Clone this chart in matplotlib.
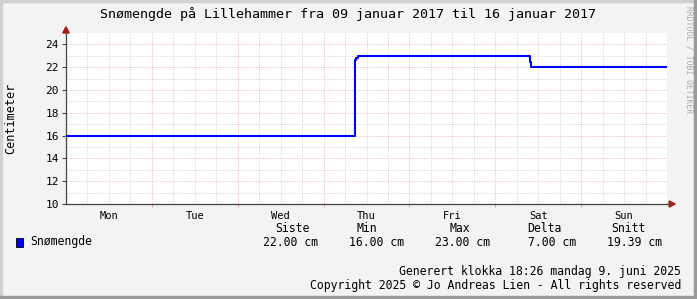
import matplotlib.pyplot as plt
from matplotlib.patches import Rectangle, Polygon
import numpy as np

# hours since Mon 09 jan 2017 00:00
hours = [0, 80.7, 80.9, 81.1, 81.6, 129.6, 130.0, 168]
snow = [16, 17.6, 22.6, 22.8, 23, 22.5, 22, 22]

days = ["Mon", "Tue", "Wed", "Thu", "Fri", "Sat", "Sun"]
yticks = [10, 12, 14, 16, 18, 20, 22, 24]

stat_heads = ["Siste", "Min", "Max", "Delta", "Snitt"]
stat_vals = ["22.00 cm", "16.00 cm", "23.00 cm", "7.00 cm", "19.39 cm"]

W, H = 697, 299
plt.rcParams['font.family'] = ['DejaVu Sans Mono']
fig = plt.figure(figsize=(W / 100, H / 100), dpi=100)
fig.patch.set_facecolor("#F3F3F3")

# frame like rrdtool
fig.patches.append(Rectangle((0, 0), 1.5 / W, 1, transform=fig.transFigure, color="#D0D0D0"))
fig.patches.append(Rectangle((0, 1 - 1.5 / H), 1, 1.5 / H, transform=fig.transFigure, color="#D0D0D0"))
fig.patches.append(Rectangle((1 - 3 / W, 0), 3 / W, 1, transform=fig.transFigure, color="#9A9A9A"))
fig.patches.append(Rectangle((0, 0), 1, 3 / H, transform=fig.transFigure, color="#9A9A9A"))

x0, x1, ytop, ybot = 66, 667, 33, 204
ax = fig.add_axes([x0 / W, (H - ybot) / H, (x1 - x0) / W, (ybot - ytop) / H])
ax.set_facecolor("white")
ax.set_xlim(0, 168)
ax.set_ylim(10, 25)

# grid
dot = (0, (1, 1.4))
gray, red = "#D2D2D2", "#EDB8B8"
for h in np.arange(6, 168, 6):
    if h % 24:
        ax.axvline(h, color=gray, lw=0.72, ls=dot, zorder=1)
for h in range(24, 168, 24):
    ax.axvline(h, color=red, lw=0.72, ls=dot, zorder=1)
for v in range(11, 25):
    ax.axhline(v, color=gray if v % 2 else red, lw=0.72, ls=dot, zorder=1)

ax.plot(hours, snow, drawstyle="steps-post", color="#0000FF", lw=1.5, zorder=3)

for s in ["top", "right"]:
    ax.spines[s].set_visible(False)
for s in ["left", "bottom"]:
    ax.spines[s].set_color("#444444")
    ax.spines[s].set_linewidth(0.9)

ax.set_yticks(yticks)
ax.set_yticklabels([str(v) for v in yticks], fontsize=8)
ax.set_xticks([12 + 24 * i for i in range(7)])
ax.set_xticklabels(days, fontsize=7.5)
ax.set_xticks(range(24, 168, 24), minor=True)
ax.tick_params(axis="x", which="major", length=0, pad=5)
ax.tick_params(axis="x", which="minor", length=2.5, width=0.75, color="#E6A6A6")
ax.tick_params(axis="y", length=3, width=0.8, color="#444444", pad=2)
ax.set_ylabel("Centimeter", fontsize=8.5)
ax.yaxis.set_label_coords((17 - x0) / (x1 - x0), 0.5)

# arrows
ax.plot([168, 168.6], [10, 10], color="#444444", lw=0.9, clip_on=False)
ax.add_patch(Polygon([[168.6, 10.27], [168.6, 9.73], [170.3, 10]], closed=True,
                     color="#A02020", clip_on=False, zorder=5))
ax.add_patch(Polygon([[-0.9, 25], [0.9, 25], [0, 25.55]], closed=True,
                     color="#A02020", clip_on=False, zorder=5))

def ft(x, y, s, **kw):
    fig.text(x / W, 1 - y / H, s, **kw)

ft(348, 14, "Snømengde på Lillehammer fra 09 januar 2017 til 16 januar 2017",
   fontsize=9.6, ha="center", va="center")
ft(689, 6, "RRDTOOL / TOBI OETIKER", fontsize=5.8, rotation=-90, color="#AAAAAA",
   ha="center", va="top")

fig.patches.append(Rectangle((16 / W, 1 - 247 / H), 7 / W, 9 / H, transform=fig.transFigure,
                             facecolor="#0000FF", edgecolor="black", lw=0.6))
ft(30, 242, "Snømengde", fontsize=8.3, va="center")

head_x = [292, 367, 460, 544, 628]
val_right = [318, 404, 490, 576, 662]
for hx, hd in zip(head_x, stat_heads):
    ft(hx, 228, hd, fontsize=8.3, ha="center", va="center")
for vx, vl in zip(val_right, stat_vals):
    ft(vx, 242, vl, fontsize=8.3, ha="right", va="center")

ft(681, 271, "Generert klokka 18:26 mandag 9. juni 2025", fontsize=8.3, ha="right", va="center")
ft(681, 285, "Copyright 2025 © Jo Andreas Lien - All rights reserved", fontsize=8.3,
   ha="right", va="center")

fig.savefig("out.png", dpi=100, facecolor=fig.get_facecolor())
